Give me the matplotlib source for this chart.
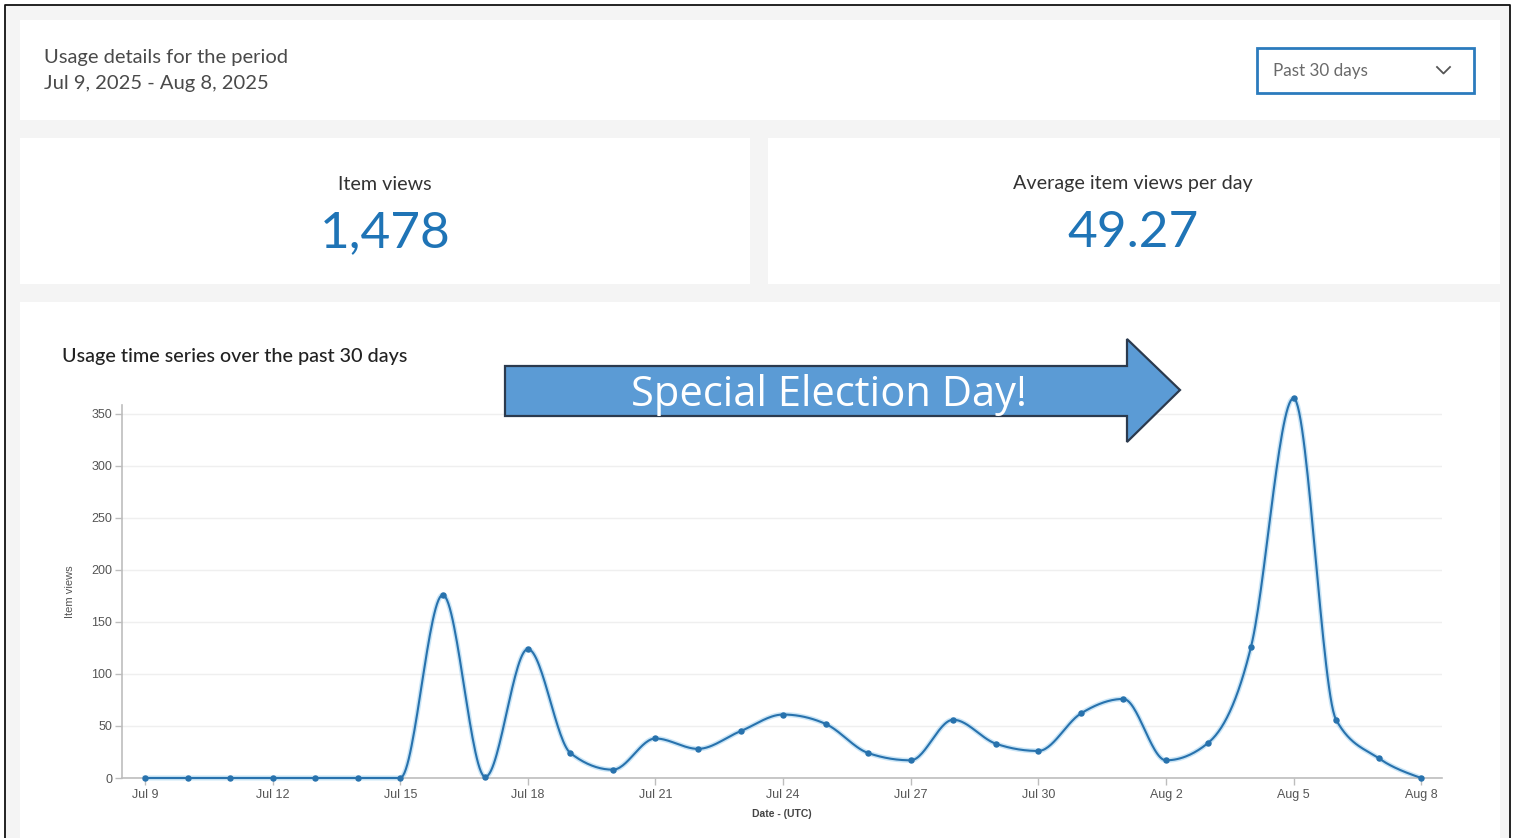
import numpy as np
import matplotlib
matplotlib.use("Agg")
import matplotlib.pyplot as plt
from matplotlib.patches import Rectangle, Polygon

# ---------------- data ----------------
dates = ["Jul 9", "Jul 10", "Jul 11", "Jul 12", "Jul 13", "Jul 14", "Jul 15", "Jul 16",
         "Jul 17", "Jul 18", "Jul 19", "Jul 20", "Jul 21", "Jul 22", "Jul 23", "Jul 24",
         "Jul 25", "Jul 26", "Jul 27", "Jul 28", "Jul 29", "Jul 30", "Jul 31", "Aug 1",
         "Aug 2", "Aug 3", "Aug 4", "Aug 5", "Aug 6", "Aug 7", "Aug 8"]
views = [0, 0, 0, 0, 0, 0, 0, 176, 1, 124, 24, 8, 38, 28, 45, 61,
         52, 24, 17, 56, 33, 26, 62, 76, 17, 34, 126, 365, 56, 19, 0]
tick_every = 3
y_ticks = [0, 50, 100, 150, 200, 250, 300, 350]
period_title = "Usage details for the period"
period_range = "Jul 9, 2025 - Aug 8, 2025"
dropdown_text = "Past 30 days"
kpi_titles = ["Item views", "Average item views per day"]
kpi_values = ["1,478", "49.27"]
chart_title = "Usage time series over the past 30 days"
annotation = "Special Election Day!"

W, H = 1515, 838
fig = plt.figure(figsize=(W / 100, H / 100), dpi=100)
fig.patch.set_facecolor("white")

def px_axes(x0, y0, x1, y1, **kw):
    return fig.add_axes([x0 / W, 1 - y1 / H, (x1 - x0) / W, (y1 - y0) / H], **kw)

UI = ["Lato", "DejaVu Sans"]
BLUE = "#1f74b6"
LINE = "#2872ad"

# background / cards
bg = px_axes(0, 0, W, H)
bg.set_xlim(0, W); bg.set_ylim(H, 0); bg.axis("off")
bg.add_patch(Rectangle((5, 5), 1505, 850, facecolor="#f4f4f4", edgecolor="none"))
for (x0, y0, x1, y1) in [(20, 20, 1500, 120), (20, 138, 750, 284),
                         (768, 138, 1500, 284), (20, 302, 1500, 860)]:
    bg.add_patch(Rectangle((x0, y0), x1 - x0, y1 - y0, facecolor="white", edgecolor="none"))
bg.plot([5, 5, 1510, 1510], [860, 5, 5, 860], color="#111111", lw=1.3)

bg.text(44, 57, period_title, fontsize=14.5, color="#4a4a4a", family=UI, va="center")
bg.text(44, 83, period_range, fontsize=14.5, color="#4a4a4a", family=UI, va="center")

# dropdown
bg.add_patch(Rectangle((1257, 48), 217, 45, facecolor="white", edgecolor="#2b7bbd", lw=2))
bg.text(1273, 71, dropdown_text, fontsize=12.3, color="#6a6a6a", family=UI, va="center")
bg.plot([1437, 1443.5, 1450], [67, 73.5, 67], color="#555555", lw=1.3)

# KPI
for cx, t, v in [(385, kpi_titles[0], kpi_values[0]), (1133, kpi_titles[1], kpi_values[1])]:
    bg.text(cx, 184, t, fontsize=14.2, color="#333333", family=UI, ha="center", va="center")
    bg.text(cx, 233, v, fontsize=37, color=BLUE, family=UI, ha="center", va="center")

bg.text(62, 356, chart_title, fontsize=14.2, color="#222222", family=UI, va="center",
        fontweight="medium")

# ---------------- chart ----------------
x = np.arange(len(views), dtype=float)
y = np.array(views, dtype=float)

def monotone_x(xs, ys, n=30):
    h = np.diff(xs)
    s = np.diff(ys) / h
    m = np.zeros_like(ys)
    for i in range(1, len(ys) - 1):
        p = (s[i - 1] * h[i] + s[i] * h[i - 1]) / (h[i - 1] + h[i])
        m[i] = (np.sign(s[i - 1]) + np.sign(s[i])) * min(abs(s[i - 1]), abs(s[i]), 0.5 * abs(p))
    m[0] = (3 * s[0] - m[1]) / 2
    m[-1] = (3 * s[-1] - m[-2]) / 2
    X, Y = [], []
    for i in range(len(xs) - 1):
        t = np.linspace(0, 1, n, endpoint=(i == len(xs) - 2))
        hh = h[i]
        h00 = 2 * t**3 - 3 * t**2 + 1
        h10 = t**3 - 2 * t**2 + t
        h01 = -2 * t**3 + 3 * t**2
        h11 = t**3 - t**2
        X.append(xs[i] + t * hh)
        Y.append(h00 * ys[i] + h10 * hh * m[i] + h01 * ys[i + 1] + h11 * hh * m[i + 1])
    return np.concatenate(X), np.concatenate(Y)

ax = px_axes(122, 405, 1442, 778)
ax.set_facecolor("none")
xs, ys = monotone_x(x, y)
ax.plot(xs, ys, color="#9fd0f0", lw=3.6, alpha=0.55, clip_on=False, zorder=2)
ax.plot(xs, ys, color=LINE, lw=1.5, clip_on=False, zorder=3)
ax.plot(x, y, "o", color=LINE, ms=3.6, clip_on=False, zorder=4)

ax.set_xlim(-0.54, len(views) - 1 + 0.49)
ax.set_ylim(0, 358.5)
ax.set_yticks(y_ticks)
ax.set_yticklabels([str(v) for v in y_ticks])
tick_idx = list(range(0, len(dates), tick_every))
ax.set_xticks(tick_idx)
ax.set_xticklabels([dates[i] for i in tick_idx])
ax.grid(axis="y", color="#efefef", lw=1)
ax.set_axisbelow(True)
for sp in ["top", "right"]:
    ax.spines[sp].set_visible(False)
for sp in ["left", "bottom"]:
    ax.spines[sp].set_color("#bdbdbd")
    ax.spines[sp].set_linewidth(1.2)
ax.tick_params(axis="both", colors="#bdbdbd", length=5, width=1)
ax.tick_params(axis="both", labelcolor="#555555", labelsize=9)
for lab in ax.get_xticklabels() + ax.get_yticklabels():
    lab.set_family(["Liberation Sans"])
ax.tick_params(axis="x", pad=3)
ax.tick_params(axis="y", pad=2)
ax.set_xlabel("Date - (UTC)", fontsize=7.5, color="#444444", fontweight="bold",
              family=["Liberation Sans"], labelpad=6)
ax.set_ylabel("Item views", fontsize=8, color="#555555",
              family=["Liberation Sans"], labelpad=12)

# ---------------- arrow overlay ----------------
ov = px_axes(0, 0, W, H)
ov.set_xlim(0, W); ov.set_ylim(H, 0); ov.axis("off"); ov.set_facecolor("none")
arrow_pts = [(505, 366), (1127, 366), (1127, 339), (1180, 390), (1127, 442),
             (1127, 416), (505, 416)]
ov.add_patch(Polygon(arrow_pts, closed=True, facecolor="#5b9bd5", edgecolor="#2b3a4e", lw=1.6))
ov.text(829, 395, annotation, fontsize=30, color="white",
        family=["Open Sans", "DejaVu Sans"], ha="center", va="center")

fig.savefig("out.png", dpi=100)
